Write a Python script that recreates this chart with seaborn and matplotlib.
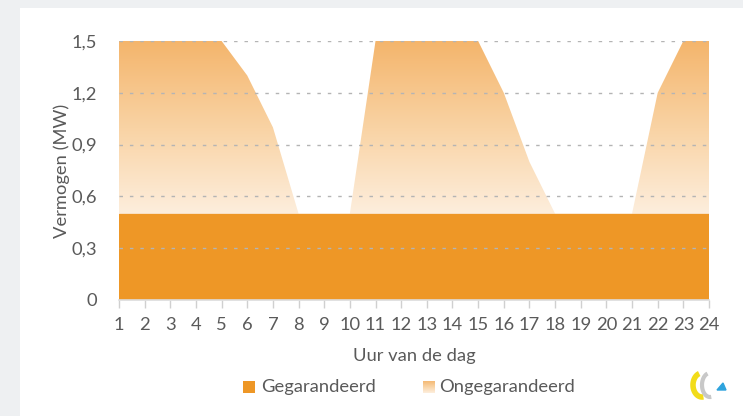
import numpy as np
import pandas as pd
import matplotlib
matplotlib.use("Agg")
import matplotlib.pyplot as plt
import seaborn as sns
from matplotlib.colors import LinearSegmentedColormap
from matplotlib.patches import Polygon, Rectangle

# data
uren = list(range(1, 25))
gegarandeerd = [0.5] * 24
totaal = [1.5, 1.5, 1.5, 1.5, 1.5, 1.3, 1.0, 0.5, 0.5, 0.5, 1.5, 1.5,
          1.5, 1.5, 1.5, 1.2, 0.8, 0.5, 0.5, 0.5, 0.5, 1.2, 1.5, 1.5]
y_ticks = [0, 0.3, 0.6, 0.9, 1.2, 1.5]
y_labels = ["0", "0,3", "0,6", "0,9", "1,2", "1,5"]

df = pd.DataFrame({"uur": uren, "gegarandeerd": gegarandeerd, "totaal": totaal})

sns.set_theme(style="white")
plt.rcParams["font.family"] = ["Lato", "DejaVu Sans"]
tekst = "#5a5a5a"
oranje = "#ee9726"
fs = 13.2
grad = LinearSegmentedColormap.from_list("ong", ["#fdeedd", "#f9d3a4", "#f4b56c"])

fig = plt.figure(figsize=(7.43, 4.16), dpi=100)
fig.patch.set_facecolor("#eef0f2")
fig.patches.append(Rectangle((20 / 743, 0), 1, 1 - 8 / 416, transform=fig.transFigure,
                             facecolor="white", edgecolor="none", zorder=-10))

ax = fig.add_axes([119 / 743, 1 - 300 / 416, 590 / 743, 259 / 416])
ax.set_facecolor("none")

# ongegarandeerd: gradient clipped to area
poly = ax.fill_between(df["uur"], df["gegarandeerd"], df["totaal"], color="none", lw=0)
verts = poly.get_paths()[0]
img = ax.imshow(np.linspace(0, 1, 256).reshape(-1, 1), cmap=grad, origin="lower",
                extent=[1, 24, 0.5, 1.5], aspect="auto", zorder=1)
img.set_clip_path(verts, transform=ax.transData)

# gegarandeerd
ax.fill_between(df["uur"], 0, df["gegarandeerd"], color=oranje, lw=0, zorder=2)
sns.lineplot(data=df, x="uur", y="gegarandeerd", color=oranje, lw=1, ax=ax, zorder=2)

for t in y_ticks[1:]:
    ax.axhline(t, color="#b4b4b4", lw=1.0, ls=(0, (2.5, 5)), zorder=3)

ax.set_xlim(1, 24)
ax.set_ylim(0, 1.5)
ax.set_xticks(uren)
ax.set_xticklabels([str(u) for u in uren])
ax.set_yticks(y_ticks)
ax.set_yticklabels(y_labels)
for s in ["top", "right", "left"]:
    ax.spines[s].set_visible(False)
ax.spines["bottom"].set_color("#dcdcdc")
ax.spines["bottom"].set_linewidth(1.2)
ax.tick_params(axis="x", colors="#d0d0d0", length=6, width=1, labelcolor=tekst,
               labelsize=fs, pad=6, bottom=True)
ax.tick_params(axis="y", length=0, labelcolor=tekst, labelsize=fs, pad=16)
ax.set_xlabel("Uur van de dag", color=tekst, fontsize=fs, labelpad=11)
ax.set_ylabel("Vermogen (MW)", color=tekst, fontsize=fs, va="center")
ax.yaxis.set_label_coords(-57 / 590, 0.5)
ax.grid(False)

# legend
fig.patches.append(Rectangle((243 / 743, 1 - 393 / 416), 12 / 743, 12 / 416,
                             transform=fig.transFigure, facecolor=oranje, edgecolor="none"))
fig.text(261 / 743, 1 - 387 / 416, "Gegarandeerd", color=tekst, fontsize=fs, va="center")
lax = fig.add_axes([423 / 743, 1 - 393 / 416, 12 / 743, 12 / 416])
lax.imshow(np.linspace(0, 1, 64).reshape(-1, 1), cmap=grad, origin="lower", aspect="auto")
lax.axis("off")
fig.text(439 / 743, 1 - 387 / 416, "Ongegarandeerd", color=tekst, fontsize=fs, va="center")

# small logo approximation
gax = fig.add_axes([688 / 743, 1 - 400 / 416, 44 / 743, 30 / 416])
gax.set_xlim(0, 44)
gax.set_ylim(0, 30)
gax.axis("off")
th = np.linspace(0.6 * np.pi, 1.55 * np.pi, 40)
gax.plot(14 + 9 * np.cos(th), 15 + 12 * np.sin(th), color="#f2dc1a", lw=4, solid_capstyle="butt")
gax.plot(22 + 8 * np.cos(th), 15 + 12 * np.sin(th), color="#c8c8c8", lw=3, solid_capstyle="butt")
gax.add_patch(Polygon([[29, 10], [38, 10], [35, 17]], closed=True, color="#2ea3dd"))

fig.savefig("out.png", dpi=100, facecolor=fig.get_facecolor())
